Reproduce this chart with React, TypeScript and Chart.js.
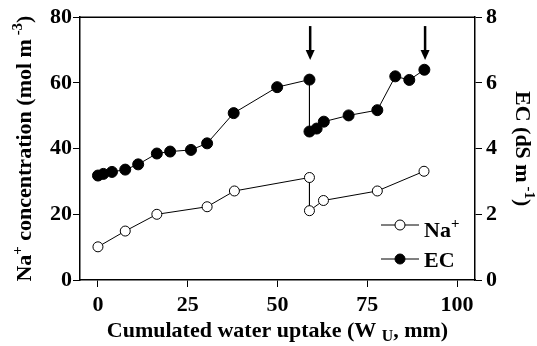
import React, { useEffect, useRef } from "react";
import { Chart, registerables } from "chart.js";

Chart.register(...registerables);

// ---- data ----
const naX = [0, 7.6, 16.4, 30.4, 38.0, 58.9, 58.9, 62.8, 77.8, 90.8];
const naY = [10.1, 14.9, 20.0, 22.3, 27.1, 31.2, 21.1, 24.2, 27.1, 33.1];
const ecX = [0, 1.5, 3.9, 7.6, 11.2, 16.4, 20.1, 25.9, 30.4, 37.8, 49.9, 58.9, 58.9, 60.9, 62.9, 69.8, 77.8, 82.8, 86.7, 90.9];
const ecY = [3.18, 3.23, 3.29, 3.36, 3.52, 3.85, 3.91, 3.96, 4.16, 5.08, 5.87, 6.1, 4.52, 4.61, 4.82, 5.01, 5.17, 6.2, 6.09, 6.4];
const xTicks = [0, 25, 50, 75, 100];
const leftTicks = [0, 20, 40, 60, 80];
const rightTicks = [0, 2, 4, 6, 8];
const arrowX = [59.1, 91.1];
const arrowFromTo = [77.3, 67.0]; // in left-axis units

const FONT = "'Liberation Serif', 'Times New Roman', serif";

type Seg = { t: string; s?: number; dy?: number };

function drawRich(ctx: CanvasRenderingContext2D, segs: Seg[], size: number, cx: number, baseY: number) {
  let total = 0;
  const widths: number[] = [];
  for (const sg of segs) {
    ctx.font = `bold ${size * (sg.s ?? 1)}px ${FONT}`;
    const w = ctx.measureText(sg.t).width;
    widths.push(w);
    total += w;
  }
  let x = cx - total / 2;
  segs.forEach((sg, i) => {
    ctx.font = `bold ${size * (sg.s ?? 1)}px ${FONT}`;
    ctx.fillText(sg.t, x, baseY + (sg.dy ?? 0) * size);
    x += widths[i];
  });
}

function drawRichLeft(ctx: CanvasRenderingContext2D, segs: Seg[], size: number, x0: number, baseY: number) {
  let x = x0;
  for (const sg of segs) {
    ctx.font = `bold ${size * (sg.s ?? 1)}px ${FONT}`;
    ctx.fillText(sg.t, x, baseY + (sg.dy ?? 0) * size);
    x += ctx.measureText(sg.t).width;
  }
}

const decorPlugin = {
  id: "decor",
  afterDraw(chart: any) {
    const ctx: CanvasRenderingContext2D = chart.ctx;
    const area = chart.chartArea;
    const xs = chart.scales.x;
    const ys = chart.scales.y;
    ctx.save();
    // top border
    ctx.strokeStyle = "#000";
    ctx.lineWidth = 1.5;
    ctx.beginPath();
    ctx.moveTo(area.left, area.top);
    ctx.lineTo(area.right, area.top);
    ctx.stroke();

    // arrows
    ctx.fillStyle = "#000";
    for (const ax of arrowX) {
      const px = xs.getPixelForValue(ax);
      const y0 = ys.getPixelForValue(arrowFromTo[0]);
      const y1 = ys.getPixelForValue(arrowFromTo[1]);
      const head = 10;
      ctx.lineWidth = 2.5;
      ctx.beginPath();
      ctx.moveTo(px, y0);
      ctx.lineTo(px, y1 - head + 1);
      ctx.stroke();
      ctx.beginPath();
      ctx.moveTo(px - 4.5, y1 - head);
      ctx.lineTo(px + 4.5, y1 - head);
      ctx.lineTo(px, y1);
      ctx.closePath();
      ctx.fill();
    }

    // legend
    ctx.lineWidth = 1;
    ctx.textAlign = "left";
    ctx.textBaseline = "alphabetic";
    const lx0 = 381, lx1 = 419, lmx = 400;
    const rows = [
      { y: 225, fill: "#fff", segs: [{ t: "Na" }, { t: "+", s: 0.68, dy: -0.42 }] as Seg[], base: 237 },
      { y: 259, fill: "#000", segs: [{ t: "EC" }] as Seg[], base: 267 },
    ];
    for (const r of rows) {
      ctx.strokeStyle = "#000";
      ctx.beginPath();
      ctx.moveTo(lx0, r.y);
      ctx.lineTo(lx1, r.y);
      ctx.stroke();
      ctx.beginPath();
      ctx.arc(lmx, r.y, 5, 0, Math.PI * 2);
      ctx.fillStyle = r.fill;
      ctx.fill();
      ctx.stroke();
      ctx.fillStyle = "#000";
      drawRichLeft(ctx, r.segs, 22, 424, r.base);
    }

    // axis titles
    ctx.fillStyle = "#000";
    // x title
    drawRich(
      ctx,
      [
        { t: "Cumulated water uptake (W " },
        { t: "U", s: 0.72, dy: 0.2 },
        { t: ", mm)" },
      ],
      22,
      (area.left + area.right) / 2,
      337
    );
    // left title
    ctx.save();
    ctx.translate(31, (area.top + area.bottom) / 2);
    ctx.rotate(-Math.PI / 2);
    drawRich(
      ctx,
      [
        { t: "Na" },
        { t: "+", s: 0.68, dy: -0.42 },
        { t: " concentration (mol m" },
        { t: " -3", s: 0.68, dy: -0.42 },
        { t: ")" },
      ],
      22,
      0,
      0
    );
    ctx.restore();
    // right title
    ctx.save();
    ctx.translate(516, (area.top + area.bottom) / 2);
    ctx.rotate(Math.PI / 2);
    drawRich(
      ctx,
      [
        { t: "EC (dS m" },
        { t: " -1", s: 0.68, dy: -0.42 },
        { t: ")" },
      ],
      22,
      0,
      0
    );
    ctx.restore();
    ctx.restore();
  },
};

export default function App() {
  const ref = useRef<HTMLCanvasElement | null>(null);
  useEffect(() => {
    document.body.style.margin = "0";
    const canvas = ref.current!;
    const tickFont = { family: FONT, size: 22, weight: "bold" as const };
    const chart = new Chart(canvas, {
      type: "line",
      data: {
        datasets: [
          {
            label: "Na+",
            data: naX.map((x, i) => ({ x, y: naY[i] })),
            yAxisID: "y",
            borderColor: "#000",
            borderWidth: 1,
            pointRadius: 5,
            pointBackgroundColor: "#fff",
            pointBorderColor: "#000",
            pointBorderWidth: 1,
            tension: 0,
          },
          {
            label: "EC",
            data: ecX.map((x, i) => ({ x, y: ecY[i] })),
            yAxisID: "y1",
            borderColor: "#000",
            borderWidth: 1,
            pointRadius: 5.5,
            pointBackgroundColor: "#000",
            pointBorderColor: "#000",
            pointBorderWidth: 1,
            tension: 0,
          },
        ],
      },
      options: {
        animation: false,
        responsive: false,
        devicePixelRatio: 1,
        layout: { padding: { top: 16, left: 0, right: 0, bottom: 0 } },
        plugins: { legend: { display: false }, tooltip: { enabled: false } },
        scales: {
          x: {
            type: "linear",
            min: -5,
            max: 105,
            afterBuildTicks: (s: any) => {
              s.ticks = xTicks.map((v) => ({ value: v }));
            },
            afterFit: (s: any) => {
              s.height = 66;
            },
            grid: { display: true, drawOnChartArea: false, drawTicks: true, tickLength: 7, tickColor: "#000", tickWidth: 1 },
            border: { display: true, color: "#000", width: 1.5 },
            ticks: { color: "#000", font: tickFont, padding: 5, maxRotation: 0, autoSkip: false },
          },
          y: {
            type: "linear",
            position: "left",
            min: 0,
            max: 80,
            afterBuildTicks: (s: any) => {
              s.ticks = leftTicks.map((v) => ({ value: v }));
            },
            afterFit: (s: any) => {
              s.width = 80;
            },
            grid: { display: true, drawOnChartArea: false, drawTicks: true, tickLength: 7, tickColor: "#000", tickWidth: 1 },
            border: { display: true, color: "#000", width: 1.5 },
            ticks: { color: "#000", font: tickFont, padding: 1 },
          },
          y1: {
            type: "linear",
            position: "right",
            min: 0,
            max: 8,
            afterBuildTicks: (s: any) => {
              s.ticks = rightTicks.map((v) => ({ value: v }));
            },
            afterFit: (s: any) => {
              s.width = 62;
            },
            grid: { display: true, drawOnChartArea: false, drawTicks: true, tickLength: 7, tickColor: "#000", tickWidth: 1 },
            border: { display: true, color: "#000", width: 1.5 },
            ticks: { color: "#000", font: tickFont, padding: 4 },
          },
        },
      },
      plugins: [decorPlugin],
    });
    return () => chart.destroy();
  }, []);
  return <canvas ref={ref} width={537} height={346} style={{ display: "block", width: 537, height: 346 }} />;
}
